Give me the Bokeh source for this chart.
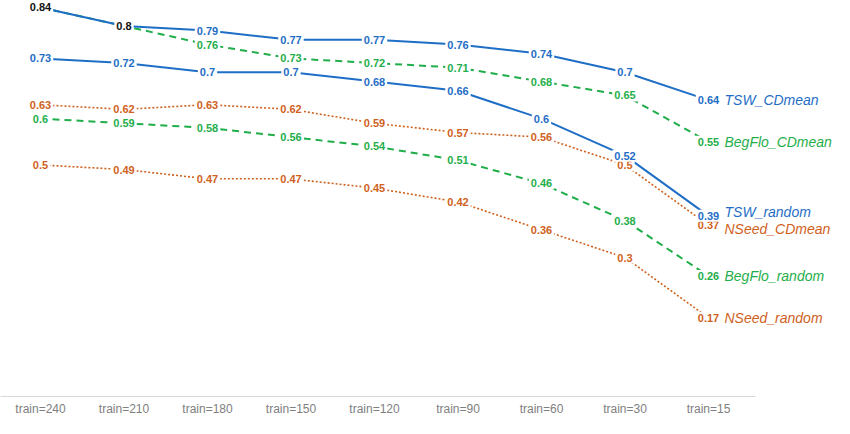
from bokeh.plotting import figure
from bokeh.models import Range1d, FixedTicker, Label, ColumnDataSource
from bokeh.embed import file_html
from bokeh.resources import INLINE
from bokeh.core.properties import value

train_labels = ["train=240", "train=210", "train=180", "train=150", "train=120",
                "train=90", "train=60", "train=30", "train=15"]

tsw_cdmean    = [0.84, 0.80, 0.79, 0.77, 0.77, 0.76, 0.74, 0.70, 0.64]
begflo_cdmean = [0.84, 0.80, 0.76, 0.73, 0.72, 0.71, 0.68, 0.65, 0.55]
tsw_random    = [0.73, 0.72, 0.70, 0.70, 0.68, 0.66, 0.60, 0.52, 0.39]
nseed_cdmean  = [0.63, 0.62, 0.63, 0.62, 0.59, 0.57, 0.56, 0.50, 0.37]
begflo_random = [0.60, 0.59, 0.58, 0.56, 0.54, 0.51, 0.46, 0.38, 0.26]
nseed_random  = [0.50, 0.49, 0.47, 0.47, 0.45, 0.42, 0.36, 0.30, 0.17]

BLUE = "#1f6ec6"
GREEN = "#1fae4a"
ORANGE = "#d0611c"

series = [
    ("NSeed_random", nseed_random, ORANGE, "2 2", 1.6),
    ("NSeed_CDmean", nseed_cdmean, ORANGE, "2 2", 1.6),
    ("BegFlo_random", begflo_random, GREEN, "7 5", 2.0),
    ("BegFlo_CDmean", begflo_cdmean, GREEN, "7 5", 2.0),
    ("TSW_random", tsw_random, BLUE, "solid", 2.0),
    ("TSW_CDmean", tsw_cdmean, BLUE, "solid", 2.0),
]

x = list(range(len(train_labels)))

p = figure(width=834, height=418, output_backend="svg", toolbar_location=None,
           x_range=Range1d(-0.479, 9.509), y_range=Range1d(0, 0.855),
           min_border_left=0, min_border_right=0, min_border_top=0, min_border_bottom=0)
p.outline_line_color = None
p.xgrid.visible = False
p.ygrid.visible = False
p.yaxis.visible = False

ax = p.xaxis[0]
ax.ticker = FixedTicker(ticks=x)
ax.bounds = (-0.479, 8.563)
ax.major_label_overrides = {i: t for i, t in enumerate(train_labels)}
ax.axis_line_color = "#d9d9d9"
ax.axis_line_width = 1
ax.major_tick_line_color = None
ax.major_tick_out = 0
ax.major_tick_in = 0
ax.minor_tick_line_color = None
ax.minor_tick_out = 0
ax.axis_label_standoff = 0
ax.major_label_text_color = "#808080"
ax.major_label_text_font = "Liberation Sans"
ax.major_label_text_font_size = "12px"
ax.major_label_standoff = 5

# lines
for name, vals, color, dash, w in series:
    p.line(x, vals, line_color=color, line_dash=dash, line_width=w)

# shared points between TSW_CDmean and BegFlo_CDmean get a black label
shared = [i for i in x if tsw_cdmean[i] == begflo_cdmean[i]]

def fmt(v):
    return ("%.2f" % v).rstrip("0").rstrip(".")

for name, vals, color, dash, w in series:
    xs, ys, ts, cs = [], [], [], []
    for i, v in enumerate(vals):
        if name in ("TSW_CDmean", "BegFlo_CDmean") and i in shared:
            if name == "BegFlo_CDmean":
                continue
            c = "#111111"
        else:
            c = color
        xs.append(i); ys.append(v); ts.append(fmt(v)); cs.append(c)
    src = ColumnDataSource(dict(x=xs, y=ys, t=ts, c=cs))
    p.text(x="x", y="y", text="t", source=src, text_color="c",
           text_font=value("Liberation Sans"), text_font_style="bold",
           text_font_size="11px", text_align="center", text_baseline="middle",
           background_fill_color="white", padding=2)

# series names at the right, spread apart when too close
last = [(name, vals[-1], color) for name, vals, color, dash, w in series]
order = sorted(last, key=lambda t: -t[1])
pos = [v for _, v, _ in order]
gap = 0.037
for _ in range(10):
    for k in range(len(pos) - 1):
        if pos[k] - pos[k + 1] < gap:
            mid = (pos[k] + pos[k + 1]) / 2
            pos[k] = mid + gap / 2
            pos[k + 1] = mid - gap / 2
for (name, v, color), yp in zip(order, pos):
    p.add_layout(Label(x=x[-1], y=yp, x_offset=16, text=name, text_color=color,
                       text_font="Liberation Sans", text_font_style="italic",
                       text_font_size="14px", text_align="left", text_baseline="middle"))

open("out.html", "w").write(file_html(p, INLINE))
